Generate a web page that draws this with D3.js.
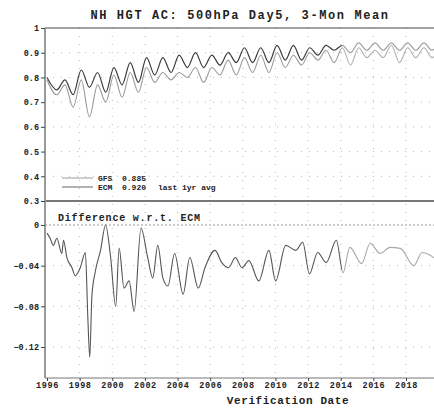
<!DOCTYPE html>
<html>
<head>
<meta charset="utf-8">
<script src="https://cdn.jsdelivr.net/npm/d3@7"></script>
<style>
  body { margin: 0; background: #fff; }
  svg { display: block; }
  text { font-family: "Liberation Mono", "DejaVu Sans Mono", monospace; font-weight: bold; fill: #222; }
</style>
</head>
<body>
<div id="chart"></div>
<script>
// anomaly correlation, 3-month running mean
const acDates = [1996.0, 1996.6, 1997.1, 1997.6, 1998.1, 1998.6, 1999.1, 1999.6, 2000.1, 2000.6,
  2001.1, 2001.6, 2002.1, 2002.6, 2003.1, 2003.6, 2004.1, 2004.6, 2005.1, 2005.6,
  2006.1, 2006.6, 2007.1, 2007.6, 2008.1, 2008.6, 2009.1, 2009.6, 2010.1, 2010.6,
  2011.1, 2011.6, 2012.1, 2012.6, 2013.1, 2013.6, 2014.1, 2014.6, 2015.1, 2015.6,
  2016.1, 2016.6, 2017.1, 2017.6, 2018.1, 2018.6, 2019.1, 2019.6, 2019.9];
const ecmValues = [0.80, 0.75, 0.79, 0.73, 0.83, 0.76, 0.82, 0.74, 0.84, 0.77,
  0.86, 0.78, 0.88, 0.81, 0.88, 0.82, 0.89, 0.84, 0.90, 0.84,
  0.89, 0.85, 0.90, 0.86, 0.92, 0.86, 0.92, 0.86, 0.93, 0.87,
  0.93, 0.87, 0.92, 0.89, 0.93, 0.91, 0.93, 0.90, 0.94, 0.91,
  0.94, 0.91, 0.94, 0.91, 0.94, 0.91, 0.94, 0.91, 0.93];
const gfsValues = [0.79, 0.73, 0.77, 0.68, 0.79, 0.64, 0.77, 0.70, 0.81, 0.72,
  0.82, 0.74, 0.84, 0.78, 0.82, 0.79, 0.82, 0.80, 0.84, 0.78,
  0.84, 0.81, 0.87, 0.81, 0.88, 0.82, 0.89, 0.82, 0.90, 0.84,
  0.89, 0.85, 0.90, 0.87, 0.91, 0.86, 0.92, 0.85, 0.92, 0.88,
  0.91, 0.88, 0.93, 0.86, 0.92, 0.88, 0.92, 0.88, 0.90];

// GFS minus ECM
const diffDates = [1996.0, 1996.19, 1996.39, 1996.6, 1996.91, 1997.01, 1997.22, 1997.53, 1997.73, 1998.04,
  1998.35, 1998.5, 1998.62, 1998.75, 1998.97, 1999.28, 1999.59, 1999.9, 2000.21, 2000.42,
  2000.72, 2001.03, 2001.34, 2001.76, 2002.17, 2002.48, 2002.79, 2003.1, 2003.41, 2003.82,
  2004.34, 2004.75, 2005.27, 2005.68, 2006.3, 2006.71, 2007.13, 2007.54, 2007.95, 2008.37,
  2008.98, 2009.6, 2010.01, 2010.63, 2011.25, 2011.67, 2012.08, 2012.59, 2013.11, 2013.73,
  2014.14, 2014.56, 2015.28, 2015.8, 2016.41, 2017.03, 2017.65, 2018.48, 2018.99, 2019.51, 2019.92];
const diffValues = [-0.008, -0.013, -0.02, -0.013, -0.028, -0.015, -0.032, -0.042, -0.05, -0.042,
  -0.027, -0.09, -0.13, -0.07, -0.045, -0.025, 0.0, -0.032, -0.08, -0.023,
  -0.062, -0.055, -0.085, -0.003, -0.032, -0.052, -0.02, -0.052, -0.06, -0.028,
  -0.068, -0.032, -0.062, -0.042, -0.025, -0.037, -0.042, -0.032, -0.042, -0.035,
  -0.055, -0.025, -0.055, -0.02, -0.025, -0.017, -0.048, -0.027, -0.037, -0.015,
  -0.047, -0.022, -0.038, -0.018, -0.028, -0.022, -0.023, -0.04, -0.027, -0.03, -0.035];

const acTicks = [0.3, 0.4, 0.5, 0.6, 0.7, 0.8, 0.9, 1];
const diffTicks = [0, -0.04, -0.08, -0.12];
const yearTicks = [1996, 1998, 2000, 2002, 2004, 2006, 2008, 2010, 2012, 2014, 2016, 2018];
const legendNames = ["GFS", "ECM"];
const legendScores = ["0.885", "0.920"];
const splitYear = 2014.1; // lines turn pale after this

const width = 434, height = 409;
const left = 45, right = 434;
const topY = 28, midY = 201, bottomY = 378;

const svg = d3.select("#chart").append("svg")
  .attr("width", width)
  .attr("height", height);

const x = d3.scaleLinear().domain([1996, 2018]).range([47, 406]);
const yAc = d3.scaleLinear().domain([0.3, 1]).range([midY, topY]);
const yDiff = d3.scaleLinear().domain([-0.12, 0]).range([347, 225]);

const defs = svg.append("defs");
defs.append("clipPath").attr("id", "early")
  .append("rect").attr("x", left).attr("y", 0).attr("width", x(splitYear) - left).attr("height", height);
defs.append("clipPath").attr("id", "late")
  .append("rect").attr("x", x(splitYear)).attr("y", 0).attr("width", right - x(splitYear)).attr("height", height);

// dotted grid
const grid = svg.append("g").attr("stroke", "#b8b8b8").attr("stroke-dasharray", "1,7");
grid.selectAll(".vg").data(yearTicks.slice(1)).enter().append("line")
  .attr("x1", d => x(d)).attr("x2", d => x(d))
  .attr("y1", topY).attr("y2", bottomY);
grid.selectAll(".hg").data(acTicks.slice(1, -1)).enter().append("line")
  .attr("x1", left).attr("x2", right)
  .attr("y1", d => yAc(d)).attr("y2", d => yAc(d));
grid.selectAll(".dg").data(diffTicks.slice(1)).enter().append("line")
  .attr("x1", left).attr("x2", right)
  .attr("y1", d => yDiff(d)).attr("y2", d => yDiff(d));
svg.append("line")
  .attr("x1", left).attr("x2", right)
  .attr("y1", yDiff(0)).attr("y2", yDiff(0))
  .attr("stroke", "#999").attr("stroke-dasharray", "2,2");

// lines
const acLine = vals => d3.line()
  .x((d, i) => x(acDates[i]))
  .y(d => yAc(d))
  .curve(d3.curveMonotoneX)(vals);
const diffLine = d3.line()
  .x((d, i) => x(diffDates[i]))
  .y(d => yDiff(d))
  .curve(d3.curveMonotoneX);

function drawSplit(pathD, early, late, w) {
  svg.append("path").attr("d", pathD).attr("fill", "none")
    .attr("stroke", early).attr("stroke-width", w).attr("clip-path", "url(#early)");
  svg.append("path").attr("d", pathD).attr("fill", "none")
    .attr("stroke", late).attr("stroke-width", w).attr("clip-path", "url(#late)");
}

drawSplit(acLine(gfsValues), "#9a9a9a", "#b0b0b0", 1.1);
drawSplit(acLine(ecmValues), "#3c3c3c", "#a0a0a0", 1.2);
drawSplit(diffLine(diffValues), "#555", "#a8a8a8", 1.1);

// frame
svg.append("line").attr("x1", left).attr("x2", right).attr("y1", topY).attr("y2", topY)
  .attr("stroke", "#444").attr("stroke-width", 1);
svg.append("line").attr("x1", left).attr("x2", right).attr("y1", midY).attr("y2", midY)
  .attr("stroke", "#777").attr("stroke-width", 2);
svg.append("line").attr("x1", left).attr("x2", right).attr("y1", bottomY).attr("y2", bottomY)
  .attr("stroke", "#777").attr("stroke-width", 1);
svg.append("line").attr("x1", left).attr("x2", left).attr("y1", topY).attr("y2", bottomY)
  .attr("stroke", "#999").attr("stroke-width", 2);

// axes
const acAxis = d3.axisLeft(yAc).tickValues(acTicks).tickSize(4)
  .tickFormat(d => d === 1 ? "1" : d3.format(".1f")(d));
const diffAxis = d3.axisLeft(yDiff).tickValues(diffTicks).tickSize(4)
  .tickFormat(d => d === 0 ? "0" : d3.format(".2f")(d));
const xAxis = d3.axisBottom(x).tickValues(yearTicks).tickSize(3).tickFormat(d3.format("d"));

function styleAxis(g) {
  g.select(".domain").remove();
  g.selectAll(".tick line").attr("stroke", "#444");
  g.selectAll("text").style("font-size", "8.5px").attr("fill", "#222");
}
svg.append("g").attr("transform", `translate(${left},0)`).call(acAxis).call(styleAxis)
  .selectAll("text").attr("x", -6);
svg.append("g").attr("transform", `translate(${left},0)`).call(diffAxis).call(styleAxis)
  .selectAll("text").attr("x", -6);
svg.append("g").attr("transform", `translate(0,${bottomY})`).call(xAxis).call(styleAxis)
  .selectAll("text").attr("y", 4).style("letter-spacing", "0.6px");

// titles
svg.append("text").attr("x", 240).attr("y", 19).attr("text-anchor", "middle")
  .style("font-size", "12px").style("letter-spacing", "1.6px")
  .text("NH HGT AC: 500hPa Day5, 3-Mon Mean");
svg.append("text").attr("x", 58).attr("y", 221)
  .style("font-size", "10px").style("letter-spacing", "0.8px")
  .text("Difference w.r.t. ECM");
svg.append("text").attr("x", 288).attr("y", 404).attr("text-anchor", "middle")
  .style("font-size", "11px").style("letter-spacing", "0.6px")
  .text("Verification Date");

// legend
const legendColors = ["#9a9a9a", "#666"];
const lg = svg.append("g");
legendNames.forEach((name, i) => {
  const ly = 178 + i * 9;
  lg.append("line").attr("x1", 62).attr("x2", 93).attr("y1", ly).attr("y2", ly)
    .attr("stroke", legendColors[i]).attr("stroke-width", 1);
  lg.append("text").attr("x", 98).attr("y", ly + 3).style("font-size", "8px").text(name);
  lg.append("text").attr("x", 122).attr("y", ly + 3).style("font-size", "8px").text(legendScores[i]);
});
lg.append("text").attr("x", 158).attr("y", 190).style("font-size", "8px").text("last 1yr avg");
</script>
</body>
</html>
